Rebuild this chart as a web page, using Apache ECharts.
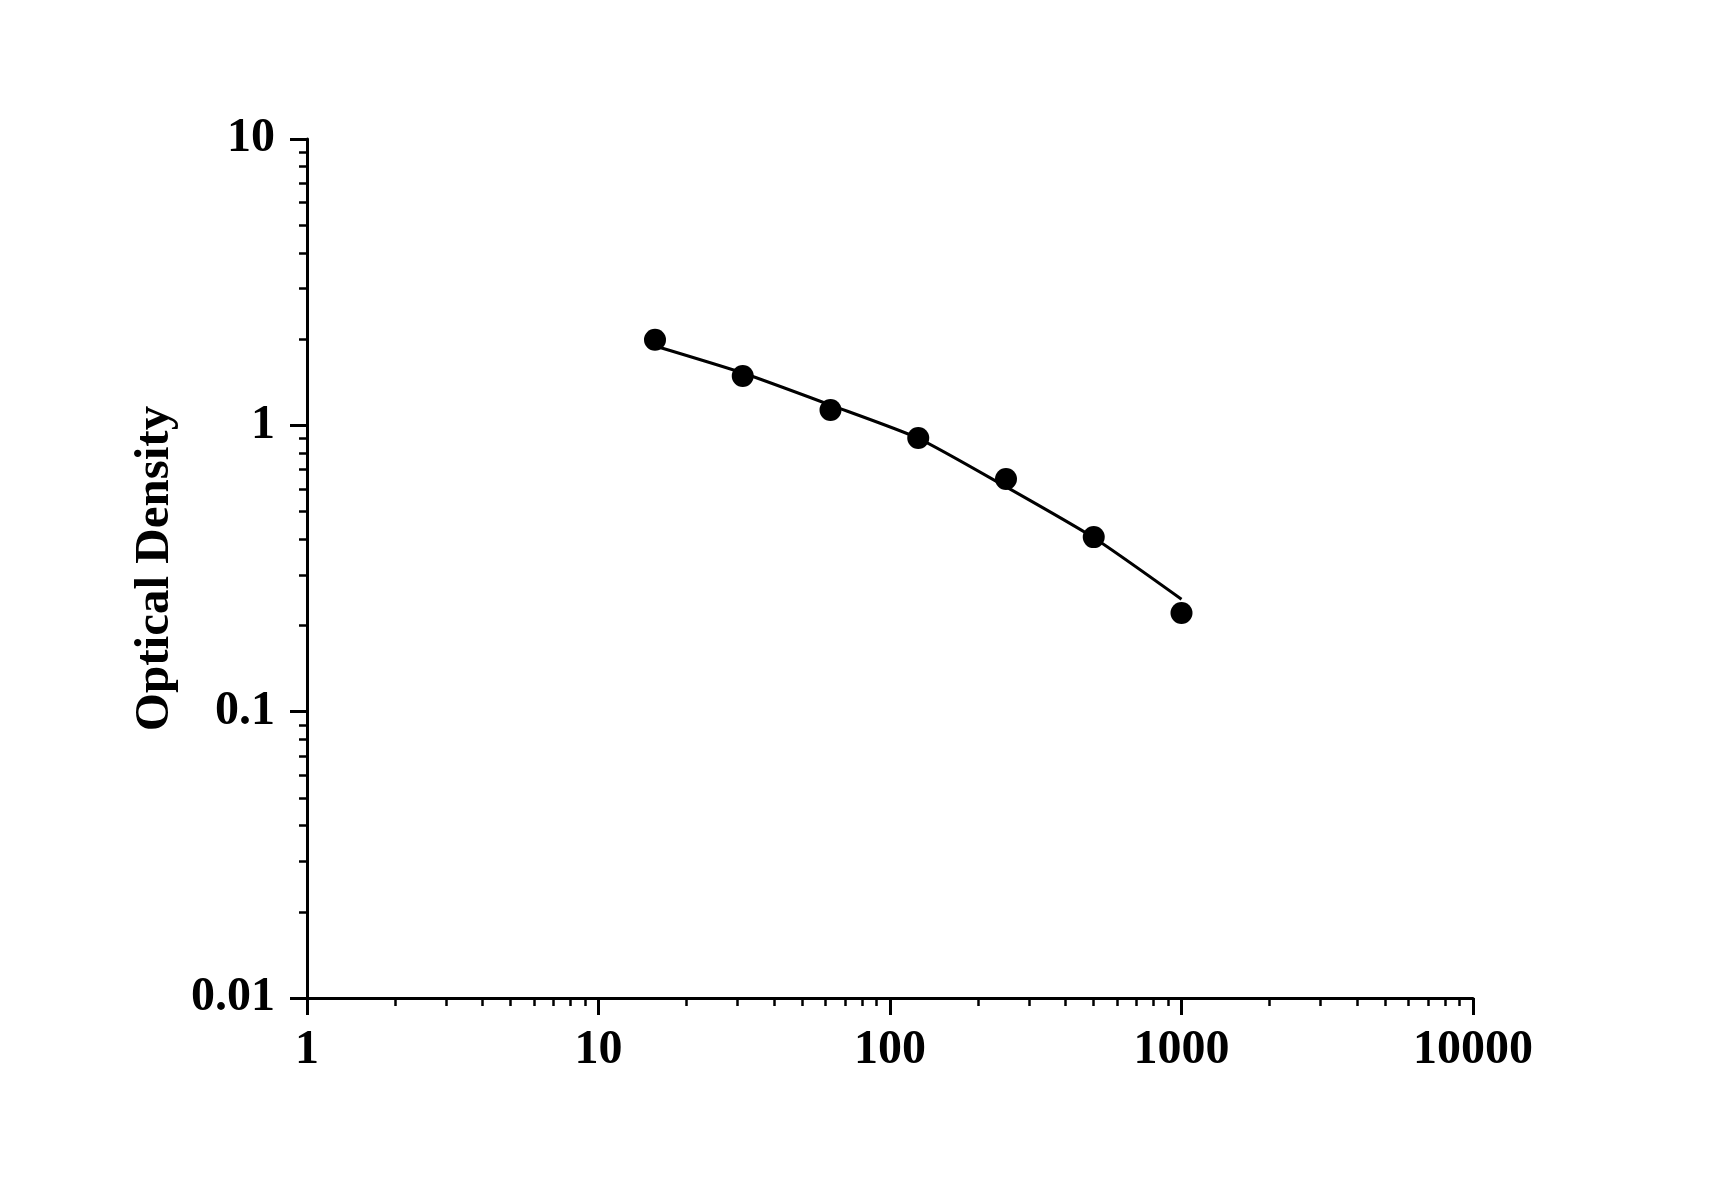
<!DOCTYPE html>
<html>
<head>
<meta charset="utf-8">
<title>Optical Density</title>
<script src="https://cdn.jsdelivr.net/npm/echarts@6/dist/echarts.min.js"></script>
<style>
  html, body { margin: 0; padding: 0; background: #fff; }
  #main { width: 1712px; height: 1196px; }
</style>
</head>
<body>
<div id="main"></div>
<script>
// standard concentrations and readings
var conc = [15.625, 31.25, 62.5, 125, 250, 500, 1000];
var odMeasured = [1.99, 1.486, 1.131, 0.903, 0.649, 0.407, 0.221];
var odFit = [1.892, 1.523, 1.177, 0.901, 0.610, 0.405, 0.247];

// ticks
var xMajor = [1, 10, 100, 1000, 10000];
var xMinor = [2, 3, 4, 5, 6, 7, 8, 9, 20, 30, 40, 50, 60, 70, 80, 90,
  200, 300, 400, 500, 600, 700, 800, 900, 2000, 3000, 4000, 5000, 6000, 7000, 8000, 9000];
var yMajor = [0.01, 0.1, 1, 10];
var yMinor = [0.02, 0.03, 0.04, 0.05, 0.06, 0.07, 0.08, 0.09,
  0.2, 0.3, 0.4, 0.5, 0.6, 0.7, 0.8, 0.9, 2, 3, 4, 5, 6, 7, 8, 9];

var font = 'Liberation Serif';

function fmt(v) {
  return String(+Number(v).toPrecision(6));
}

var myChart = echarts.init(document.getElementById('main'));

var labelStyle = {
  fontFamily: font,
  fontWeight: 'bold',
  fontSize: 48,
  color: '#000'
};

var option = {
  backgroundColor: '#fff',
  animation: false,
  grid: {
    left: 307,
    right: 239,
    top: 139,
    bottom: 198
  },
  xAxis: [
    {
      type: 'log',
      logBase: 10,
      min: 1,
      max: 10000,
      axisLine: { show: true, onZero: false, lineStyle: { color: '#000', width: 3 } },
      axisTick: { show: true, length: 17, lineStyle: { color: '#000', width: 3 }, customValues: xMajor },
      axisLabel: Object.assign({ margin: 29, formatter: fmt, customValues: xMajor }, labelStyle),
      splitLine: { show: false }
    },
    {
      type: 'log',
      logBase: 10,
      min: 1,
      max: 10000,
      position: 'bottom',
      axisLine: { show: false },
      axisTick: { show: true, length: 8, lineStyle: { color: '#000', width: 2.5 }, customValues: xMinor },
      axisLabel: { show: false },
      splitLine: { show: false }
    }
  ],
  yAxis: [
    {
      type: 'log',
      logBase: 10,
      min: 0.01,
      max: 10,
      name: 'Optical Density',
      nameLocation: 'middle',
      nameRotate: 90,
      nameGap: 124,
      nameTextStyle: {
        fontFamily: font,
        fontWeight: 'bold',
        fontSize: 49,
        color: '#000'
      },
      axisLine: { show: true, onZero: false, lineStyle: { color: '#000', width: 3 } },
      axisTick: { show: true, length: 17, lineStyle: { color: '#000', width: 3 }, customValues: yMajor },
      axisLabel: Object.assign({ margin: 32, formatter: fmt, customValues: yMajor }, labelStyle),
      splitLine: { show: false }
    },
    {
      type: 'log',
      logBase: 10,
      min: 0.01,
      max: 10,
      position: 'left',
      axisLine: { show: false },
      axisTick: { show: true, length: 8, lineStyle: { color: '#000', width: 2.5 }, customValues: yMinor },
      axisLabel: { show: false },
      splitLine: { show: false }
    }
  ],
  series: [
    {
      name: 'fit',
      type: 'line',
      xAxisIndex: 0,
      yAxisIndex: 0,
      data: conc.map(function (c, i) { return [c, odFit[i]]; }),
      showSymbol: false,
      symbol: 'none',
      smooth: 0.2,
      lineStyle: { color: '#000', width: 3 },
      z: 2
    },
    {
      name: 'points',
      type: 'scatter',
      xAxisIndex: 0,
      yAxisIndex: 0,
      data: conc.map(function (c, i) { return [c, odMeasured[i]]; }),
      symbol: 'circle',
      symbolSize: 22,
      itemStyle: { color: '#000', opacity: 1 },
      z: 3
    }
  ]
};

myChart.setOption(option);
</script>
</body>
</html>
